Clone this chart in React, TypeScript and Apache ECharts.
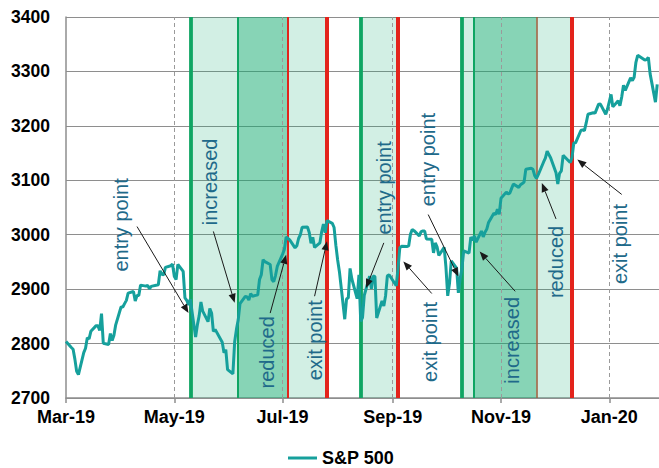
import React, { useEffect, useRef } from "react";
import * as echarts from "echarts";

// S&P 500 daily closes, Mar 2019 - Jan 2020
const tradeDates = [
  "2019-03-01","2019-03-04","2019-03-05","2019-03-06","2019-03-07","2019-03-08","2019-03-11","2019-03-12","2019-03-13","2019-03-14","2019-03-15","2019-03-18","2019-03-19","2019-03-20","2019-03-21","2019-03-22","2019-03-25","2019-03-26","2019-03-27","2019-03-28","2019-03-29",
  "2019-04-01","2019-04-02","2019-04-03","2019-04-04","2019-04-05","2019-04-08","2019-04-09","2019-04-10","2019-04-11","2019-04-12","2019-04-15","2019-04-16","2019-04-17","2019-04-18","2019-04-22","2019-04-23","2019-04-24","2019-04-25","2019-04-26","2019-04-29","2019-04-30",
  "2019-05-01","2019-05-02","2019-05-03","2019-05-06","2019-05-07","2019-05-08","2019-05-09","2019-05-10","2019-05-13","2019-05-14","2019-05-15","2019-05-16","2019-05-17","2019-05-20","2019-05-21","2019-05-22","2019-05-23","2019-05-24","2019-05-28","2019-05-29","2019-05-30","2019-05-31",
  "2019-06-03","2019-06-04","2019-06-05","2019-06-06","2019-06-07","2019-06-10","2019-06-11","2019-06-12","2019-06-13","2019-06-14","2019-06-17","2019-06-18","2019-06-19","2019-06-20","2019-06-21","2019-06-24","2019-06-25","2019-06-26","2019-06-27","2019-06-28",
  "2019-07-01","2019-07-02","2019-07-03","2019-07-05","2019-07-08","2019-07-09","2019-07-10","2019-07-11","2019-07-12","2019-07-15","2019-07-16","2019-07-17","2019-07-18","2019-07-19","2019-07-22","2019-07-23","2019-07-24","2019-07-25","2019-07-26","2019-07-29","2019-07-30","2019-07-31",
  "2019-08-01","2019-08-02","2019-08-05","2019-08-06","2019-08-07","2019-08-08","2019-08-09","2019-08-12","2019-08-13","2019-08-14","2019-08-15","2019-08-16","2019-08-19","2019-08-20","2019-08-21","2019-08-22","2019-08-23","2019-08-26","2019-08-27","2019-08-28","2019-08-29","2019-08-30",
  "2019-09-03","2019-09-04","2019-09-05","2019-09-06","2019-09-09","2019-09-10","2019-09-11","2019-09-12","2019-09-13","2019-09-16","2019-09-17","2019-09-18","2019-09-19","2019-09-20","2019-09-23","2019-09-24","2019-09-25","2019-09-26","2019-09-27","2019-09-30",
  "2019-10-01","2019-10-02","2019-10-03","2019-10-04","2019-10-07","2019-10-08","2019-10-09","2019-10-10","2019-10-11","2019-10-14","2019-10-15","2019-10-16","2019-10-17","2019-10-18","2019-10-21","2019-10-22","2019-10-23","2019-10-24","2019-10-25","2019-10-28","2019-10-29","2019-10-30","2019-10-31",
  "2019-11-01","2019-11-04","2019-11-05","2019-11-06","2019-11-07","2019-11-08","2019-11-11","2019-11-12","2019-11-13","2019-11-14","2019-11-15","2019-11-18","2019-11-19","2019-11-20","2019-11-21","2019-11-22","2019-11-25","2019-11-26","2019-11-27","2019-11-29",
  "2019-12-02","2019-12-03","2019-12-04","2019-12-05","2019-12-06","2019-12-09","2019-12-10","2019-12-11","2019-12-12","2019-12-13","2019-12-16","2019-12-17","2019-12-18","2019-12-19","2019-12-20","2019-12-23","2019-12-24","2019-12-26","2019-12-27","2019-12-30","2019-12-31",
  "2020-01-02","2020-01-03","2020-01-06","2020-01-07","2020-01-08","2020-01-09","2020-01-10","2020-01-13","2020-01-14","2020-01-15","2020-01-16","2020-01-17","2020-01-21","2020-01-22","2020-01-23","2020-01-24","2020-01-27","2020-01-28",
];

const spxClose = [
  2803.69, 2792.81, 2789.65, 2771.45, 2748.93, 2743.07, 2783.3, 2791.52, 2810.92, 2808.48, 2822.48, 2832.94, 2832.57, 2824.23, 2854.88, 2800.71, 2798.36, 2818.46, 2805.37, 2815.44, 2834.4,
  2867.19, 2867.24, 2873.4, 2879.39, 2892.74, 2895.77, 2878.2, 2888.21, 2888.32, 2907.41, 2905.58, 2907.06, 2900.45, 2905.03, 2907.97, 2933.68, 2927.25, 2926.17, 2939.88, 2943.03, 2945.83,
  2923.73, 2917.52, 2945.64, 2932.47, 2884.05, 2879.42, 2870.72, 2881.4, 2811.87, 2834.41, 2850.96, 2876.32, 2859.53, 2840.23, 2864.36, 2856.27, 2822.24, 2826.06, 2802.39, 2783.02, 2788.86, 2752.06,
  2744.45, 2803.27, 2826.15, 2843.49, 2873.34, 2886.73, 2885.72, 2879.84, 2891.64, 2886.98, 2889.67, 2917.75, 2926.46, 2954.18, 2950.46, 2945.35, 2917.38, 2913.78, 2924.92, 2941.76,
  2964.33, 2973.01, 2995.82, 2990.41, 2975.95, 2979.63, 2993.07, 2999.91, 3013.77, 3014.3, 3004.04, 2984.42, 2995.11, 2976.61, 2985.03, 3005.47, 3019.56, 3003.67, 3025.86, 3020.97, 3013.18, 2980.38,
  2953.56, 2932.05, 2844.74, 2881.77, 2883.98, 2938.09, 2918.65, 2882.7, 2926.32, 2840.6, 2847.6, 2888.68, 2923.65, 2900.51, 2924.43, 2922.95, 2847.11, 2878.38, 2869.16, 2887.94, 2924.58, 2926.46,
  2906.27, 2937.78, 2976.0, 2978.71, 2978.43, 2979.39, 3000.93, 3009.57, 3007.39, 2997.96, 3005.7, 3006.73, 3006.79, 2992.07, 2991.78, 2966.6, 2984.87, 2977.62, 2961.79, 2976.74,
  2940.25, 2887.61, 2910.63, 2952.01, 2938.79, 2893.06, 2919.4, 2938.13, 2970.27, 2966.15, 2995.68, 2989.69, 2997.95, 2986.2, 3006.72, 2995.99, 3004.52, 3010.29, 3022.55, 3039.42, 3036.89, 3046.77, 3037.56,
  3066.91, 3078.27, 3074.62, 3076.78, 3085.18, 3093.08, 3087.01, 3091.84, 3094.04, 3096.63, 3120.46, 3122.03, 3120.18, 3108.46, 3103.54, 3110.29, 3133.64, 3140.52, 3153.63, 3140.98,
  3113.87, 3093.2, 3112.76, 3117.43, 3145.91, 3135.96, 3132.52, 3141.63, 3168.57, 3168.8, 3191.45, 3192.52, 3191.14, 3205.37, 3221.22, 3224.01, 3223.38, 3239.91, 3240.02, 3221.29, 3230.78,
  3257.85, 3234.85, 3246.28, 3237.18, 3253.05, 3274.7, 3265.35, 3288.13, 3283.15, 3289.29, 3316.81, 3329.62, 3320.79, 3321.75, 3325.54, 3295.47, 3243.63, 3276.24,
];

const seriesName = "S&P 500";

// Axis range and tick labels
const xStart = "2019-03-01";
const xEnd = "2020-01-29";
const xTickDates = ["2019-03-01", "2019-05-01", "2019-07-01", "2019-09-01", "2019-11-01", "2020-01-01"];
const xTickLabels = ["Mar-19", "May-19", "Jul-19", "Sep-19", "Nov-19", "Jan-20"];
const yMin = 2700;
const yMax = 3400;
const yStep = 100;

// Position periods: partial holding (light) and full holding (dark)
const partialPeriods = [
  ["2019-05-10", "2019-06-06"],
  ["2019-07-04", "2019-07-26"],
  ["2019-08-14", "2019-09-04"],
  ["2019-10-10", "2019-10-16 12"],
  ["2019-11-21", "2019-12-11"],
];
const fullPeriods = [
  ["2019-06-06", "2019-07-04"],
  ["2019-10-16 12", "2019-11-21"],
];

// Signal dates and their kind
const signalDates = [
  "2019-05-10", "2019-06-06", "2019-07-04", "2019-07-26",
  "2019-08-14", "2019-09-04",
  "2019-10-10", "2019-10-16 12", "2019-11-21", "2019-12-11",
];
const signalKinds = [
  "entry", "increase", "reduce", "exit",
  "entry", "exit",
  "entry", "increase", "trim", "exit",
];

// Annotations: text, label anchor, arrow tail and arrow tip (date, index level)
const noteTexts = [
  "entry point", "increased", "reduced", "exit point", "entry point",
  "exit point", "entry point", "increased", "reduced", "exit point",
];
const noteAnchors: [string, number][] = [
  ["2019-04-01", 3018], ["2019-05-21", 3097], ["2019-06-22", 2784], ["2019-07-19", 2806], ["2019-08-27", 3086],
  ["2019-09-22", 2803], ["2019-09-21", 3138], ["2019-11-07", 2806], ["2019-12-02", 2950], ["2020-01-07", 2983],
];
const arrowTails: [string, number][] = [
  ["2019-04-10", 3015], ["2019-05-23", 3006], ["2019-06-24", 2856], ["2019-07-19", 2887], ["2019-08-27", 2985],
  ["2019-09-23", 2892], ["2019-09-21", 3037], ["2019-11-09", 2896], ["2019-12-02", 3029], ["2020-01-08", 3074],
];
const arrowTips: [string, number][] = [
  ["2019-05-09", 2856], ["2019-06-04", 2875], ["2019-07-03", 2963], ["2019-07-26", 2988], ["2019-08-17", 2902],
  ["2019-09-07", 2951], ["2019-10-08", 2923], ["2019-10-20", 2969], ["2019-11-24", 3095], ["2019-12-14", 3138],
];

const TEAL = "#16a09c";
const NOTE_COLOR = "#1f6a8a";
const GRID_GREY = "#8e8e8e";
const BAND_LIGHT = "rgba(16,170,110,0.19)";
const BAND_DARK = "rgba(16,170,110,0.5)";
const signalStyle: Record<string, { color: string; width: number }> = {
  entry: { color: "#0fa563", width: 3.8 },
  increase: { color: "#0fa563", width: 2 },
  reduce: { color: "#e3231b", width: 2 },
  trim: { color: "#9c5b3a", width: 1.5 },
  exit: { color: "#e3231b", width: 4 },
};
const FONT = "Arial, 'Liberation Sans', sans-serif";

const toTime = (s: string) => {
  const [d, h] = s.split(" ");
  const [y, m, dd] = d.split("-").map(Number);
  return new Date(y, m - 1, dd, h ? Number(h) : 0).getTime();
};

export default function App() {
  const ref = useRef<HTMLDivElement>(null);

  useEffect(() => {
    if (!ref.current) return;
    const chart = echarts.init(ref.current, undefined, { renderer: "svg" });
    const tickTimes = xTickDates.map(toTime);

    chart.setOption({
      animation: false,
      backgroundColor: "#ffffff",
      color: [TEAL],
      grid: { left: 66, right: 0, top: 17, bottom: 70 },
      legend: {
        data: [seriesName],
        left: 288,
        top: 449,
        padding: 0,
        icon: "rect",
        itemWidth: 29,
        itemHeight: 3,
        selectedMode: false,
        textStyle: { color: "#000", fontSize: 18, lineHeight: 18, fontWeight: "bold", fontFamily: FONT },
      },
      xAxis: {
        type: "value",
        min: toTime(xStart),
        max: toTime(xEnd),
        axisLine: { show: true, lineStyle: { color: GRID_GREY, width: 1.5 } },
        axisTick: {
          show: true,
          customValues: tickTimes,
          length: 5,
          lineStyle: { color: GRID_GREY, width: 1.5 },
        },
        axisLabel: {
          customValues: tickTimes,
          formatter: (v: number) => {
            const i = tickTimes.findIndex((t) => Math.abs(t - v) < 43200000);
            return i >= 0 ? xTickLabels[i] : "";
          },
          color: "#000",
          fontSize: 18,
          fontWeight: "bold",
          fontFamily: FONT,
          margin: 10,
        },
        splitLine: { show: false },
      },
      yAxis: {
        type: "value",
        min: yMin,
        max: yMax,
        interval: yStep,
        axisLine: { show: true, lineStyle: { color: GRID_GREY, width: 1.5 } },
        axisTick: { show: false },
        splitLine: { show: true, lineStyle: { color: GRID_GREY, width: 1 } },
        axisLabel: {
          formatter: (v: number) => String(v),
          color: "#000",
          fontSize: 17.5,
          fontWeight: "bold",
          fontFamily: FONT,
          margin: 16,
        },
      },
      series: [
        {
          name: seriesName,
          type: "line",
          z: 3,
          showSymbol: false,
          symbol: "none",
          lineStyle: { color: TEAL, width: 3 },
          itemStyle: { color: TEAL },
          data: tradeDates.map((d, i) => [toTime(d), spxClose[i]]),
          markArea: {
            silent: true,
            z: 1,
            data: [
              ...partialPeriods.map(([a, b]) => [
                { xAxis: toTime(a), itemStyle: { color: BAND_LIGHT } },
                { xAxis: toTime(b) },
              ]),
              ...fullPeriods.map(([a, b]) => [
                { xAxis: toTime(a), itemStyle: { color: BAND_DARK } },
                { xAxis: toTime(b) },
              ]),
            ],
          },
          markLine: {
            silent: true,
            z: 2,
            symbol: ["none", "none"],
            label: { show: false },
            data: [
              // dashed month guides at every labelled tick except the axis origin
              ...tickTimes.slice(1).map((t) => ({
                xAxis: t,
                lineStyle: { type: [4, 3], color: "#9a9a9a", width: 1 },
              })),
              ...signalDates.map((d, i) => ({
                xAxis: toTime(d),
                lineStyle: { type: "solid", ...signalStyle[signalKinds[i]] },
              })),
            ],
          },
        },
      ],
    });

    // Rotated annotation texts with arrows pointing at the line
    const px = (p: [string, number]) =>
      chart.convertToPixel({ gridIndex: 0 }, [toTime(p[0]), p[1]]) as number[];
    const graphics: any[] = [];
    noteTexts.forEach((text, i) => {
      const [lx, ly] = px(noteAnchors[i]);
      graphics.push({
        type: "text",
        x: lx,
        y: ly,
        rotation: Math.PI / 2,
        z: 20,
        silent: true,
        style: {
          text,
          fill: NOTE_COLOR,
          fontSize: 20,
          fontFamily: FONT,
          align: "center",
          verticalAlign: "middle",
        },
      });
      const [x1, y1] = px(arrowTails[i]);
      const [x2, y2] = px(arrowTips[i]);
      const ang = Math.atan2(y2 - y1, x2 - x1);
      const c = Math.cos(ang);
      const s = Math.sin(ang);
      const headLen = 9;
      const headHalf = 3.6;
      const bx = x2 - headLen * c;
      const by = y2 - headLen * s;
      graphics.push({
        type: "line",
        z: 20,
        silent: true,
        shape: { x1, y1, x2: bx, y2: by },
        style: { stroke: "#1a1a1a", lineWidth: 1 },
      });
      graphics.push({
        type: "polygon",
        z: 20,
        silent: true,
        shape: {
          points: [
            [x2, y2],
            [bx - headHalf * s, by + headHalf * c],
            [bx + headHalf * s, by - headHalf * c],
          ],
        },
        style: { fill: "#1a1a1a" },
      });
    });
    chart.setOption({ graphic: graphics });

    return () => chart.dispose();
  }, []);

  return (
    <div
      ref={ref}
      style={{ position: "fixed", left: 0, top: 0, width: 659, height: 468, background: "#fff" }}
    />
  );
}
